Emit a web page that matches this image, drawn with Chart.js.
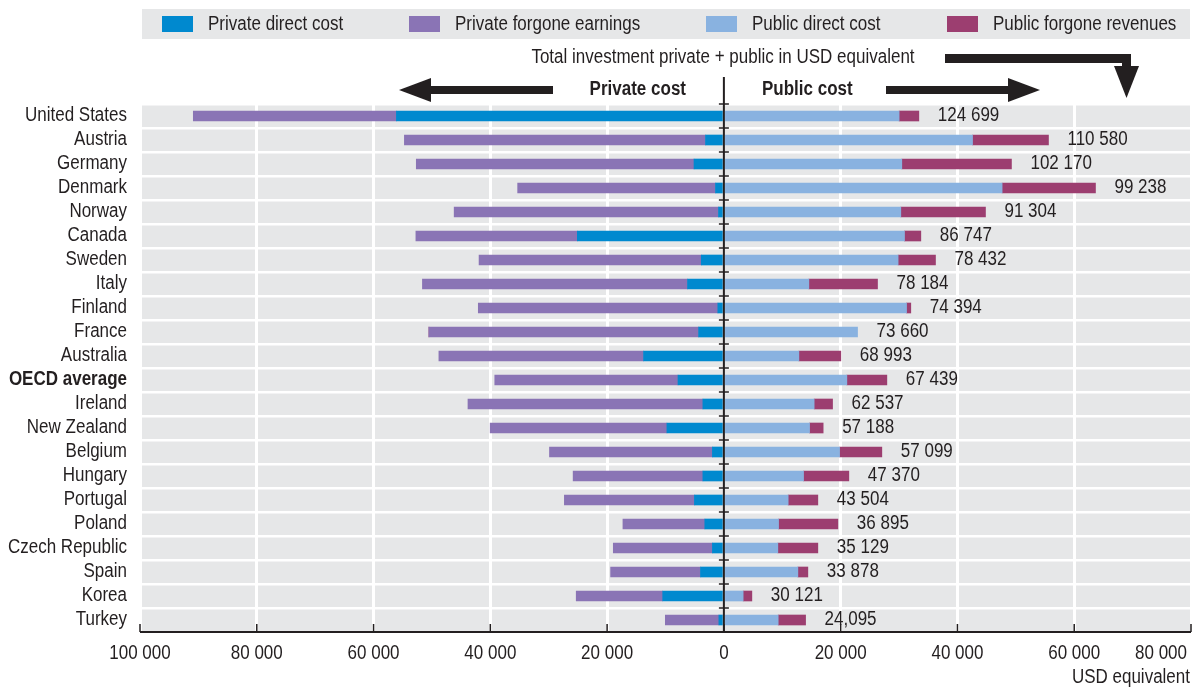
<!DOCTYPE html>
<html>
<head>
<meta charset="utf-8">
<script src="https://cdn.jsdelivr.net/npm/chart.js@4.4.1/dist/chart.umd.min.js"></script>
<style>
  html, body { margin: 0; padding: 0; background: #fff; }
  #wrap { position: relative; width: 1193px; height: 688px; }
</style>
</head>
<body>
<div id="wrap"><canvas id="costChart"></canvas></div>
<script>
const countries = ['United States', 'Austria', 'Germany', 'Denmark', 'Norway', 'Canada', 'Sweden', 'Italy',
  'Finland', 'France', 'Australia', 'OECD average', 'Ireland', 'New Zealand', 'Belgium', 'Hungary',
  'Portugal', 'Poland', 'Czech Republic', 'Spain', 'Korea', 'Turkey'];

// private costs are kept positive here and drawn to the left
const privateDirect = [56090, 3150, 5120, 1440, 925, 25100, 3870, 6230, 1040, 4330, 13760, 7860,
  3600, 9760, 1970, 3600, 5050, 3270, 1970, 4010, 10480, 860];
const privateForgone = [34780, 51570, 47560, 33880, 45270, 27650, 38060, 45400, 41020, 46190, 35050, 31380,
  40230, 30270, 27900, 22220, 22270, 14020, 16970, 15390, 14810, 9170];
const publicDirect = [30010, 42580, 30470, 47650, 30300, 30930, 29840, 14550, 31280, 22890, 12840, 21060,
  15460, 14670, 19810, 13640, 11010, 9360, 9240, 12670, 3300, 9300];
const publicForgone = [3380, 13010, 18780, 15990, 14500, 2800, 6400, 11760, 730, 0, 7190, 6850,
  3150, 2330, 7240, 7760, 5080, 10160, 6850, 1710, 1490, 4690];
const totalLabels = ['124 699', '110 580', '102 170', '99 238', '91 304', '86 747', '78 432', '78 184',
  '74 394', '73 660', '68 993', '67 439', '62 537', '57 188', '57 099', '47 370', '43 504', '36 895',
  '35 129', '33 878', '30 121', '24,095'];
const xTicks = [-100000, -80000, -60000, -40000, -20000, 0, 20000, 40000, 60000, 80000];

const FONT = '"Liberation Sans", Arial, sans-serif';
const INK = '#231f20';
const GREY = '#e6e7e8';
const SQUEEZE = 0.85; // the original uses a condensed face

function fmt(v) {
  return String(Math.abs(v)).replace(/\B(?=(\d{3})+(?!\d))/g, ' ');
}

// condensed text: measure, then draw with a horizontal squeeze
function narrowText(ctx, str, x, y, align, bold) {
  ctx.font = (bold ? 'bold ' : '') + '20px ' + FONT;
  const w = ctx.measureText(str).width * SQUEEZE;
  let left = x;
  if (align === 'right') left = x - w;
  else if (align === 'center') left = x - w / 2;
  ctx.save();
  ctx.translate(left, y);
  ctx.scale(SQUEEZE, 1);
  ctx.textAlign = 'left';
  ctx.textBaseline = 'middle';
  ctx.fillText(str, 0, 0);
  ctx.restore();
  return w;
}

function arrowLeft(ctx, x0, x1, y) {
  ctx.fillRect(x1 + 31, y - 4, x0 - x1 - 31, 8);
  ctx.beginPath();
  ctx.moveTo(x1, y); ctx.lineTo(x1 + 32, y - 12); ctx.lineTo(x1 + 32, y + 12);
  ctx.closePath(); ctx.fill();
}

function arrowRight(ctx, x0, x1, y) {
  ctx.fillRect(x0, y - 4, x1 - x0 - 31, 8);
  ctx.beginPath();
  ctx.moveTo(x1, y); ctx.lineTo(x1 - 32, y - 12); ctx.lineTo(x1 - 32, y + 12);
  ctx.closePath(); ctx.fill();
}

const decor = {
  id: 'decor',
  beforeDraw(chart) {
    const { ctx, chartArea: a } = chart;
    ctx.save();
    ctx.fillStyle = GREY;
    ctx.fillRect(a.left, a.top, a.right - a.left, a.bottom - a.top);

    // legend strip
    ctx.fillRect(142, 9, 1048, 30);
    const legX = [162, 409, 706, 947];
    chart.data.datasets.forEach((ds, i) => {
      ctx.fillStyle = ds.backgroundColor;
      ctx.fillRect(legX[i], 16, 31, 16);
      ctx.fillStyle = INK;
      narrowText(ctx, ds.label, legX[i] + 46, 24, 'left');
    });
    ctx.restore();
  },
  afterDatasetsDraw(chart) {
    const { ctx, chartArea: a } = chart;
    const xs = chart.scales.x, ys = chart.scales.y;
    const x0 = xs.getPixelForValue(0);
    ctx.save();
    ctx.strokeStyle = INK;
    ctx.fillStyle = INK;

    // zero line with small ticks between rows
    ctx.lineWidth = 2;
    ctx.beginPath();
    ctx.moveTo(x0, 77); ctx.lineTo(x0, a.bottom);
    ctx.stroke();
    ctx.lineWidth = 1.5;
    const step = (a.bottom - a.top) / countries.length;
    for (let i = 0; i <= countries.length; i++) {
      const y = a.top + i * step;
      ctx.beginPath(); ctx.moveTo(x0 - 5, y); ctx.lineTo(x0 + 5, y); ctx.stroke();
    }

    // bottom axis
    ctx.lineWidth = 2;
    ctx.beginPath();
    ctx.moveTo(a.left, a.bottom); ctx.lineTo(a.right, a.bottom);
    ctx.stroke();
    xTicks.forEach(v => {
      const x = xs.getPixelForValue(v);
      ctx.lineWidth = 1.5;
      ctx.beginPath(); ctx.moveTo(x, a.bottom); ctx.lineTo(x, a.bottom - 8); ctx.stroke();
      const t = fmt(v);
      ctx.font = '20px ' + FONT;
      const w = ctx.measureText(t).width * SQUEEZE;
      let cx = x;
      if (cx + w / 2 > chart.width - 6) cx = chart.width - 6 - w / 2;
      narrowText(ctx, t, cx, 653, 'center');
    });
    narrowText(ctx, 'USD equivalent', a.right - 1, 677, 'right');

    // category labels
    countries.forEach((c, i) => {
      narrowText(ctx, c, 127, ys.getPixelForValue(i) - 1, 'right', c === 'OECD average');
    });

    // totals at the end of each bar
    totalLabels.forEach((t, i) => {
      const end = xs.getPixelForValue(publicDirect[i] + publicForgone[i]);
      narrowText(ctx, t, end + 19, ys.getPixelForValue(i) - 0.5, 'left');
    });

    // heading and arrows
    narrowText(ctx, 'Total investment private + public in USD equivalent', 723, 57, 'center');
    narrowText(ctx, 'Private cost', 686, 89, 'right', true);
    narrowText(ctx, 'Public cost', 762, 89, 'left', true);

    arrowLeft(ctx, 553, 399, 90);
    arrowRight(ctx, 886, 1040, 90);
    ctx.fillRect(945, 54, 186, 9);
    ctx.fillRect(1122, 54, 9, 13);
    ctx.beginPath();
    ctx.moveTo(1114, 66); ctx.lineTo(1139, 66); ctx.lineTo(1126.5, 98);
    ctx.closePath(); ctx.fill();
    ctx.restore();
  }
};

Chart.defaults.font.family = FONT;

new Chart(document.getElementById('costChart').getContext('2d'), {
  type: 'bar',
  data: {
    labels: countries,
    datasets: [
      { label: 'Private direct cost', data: privateDirect.map(v => -v), backgroundColor: '#0089cf' },
      { label: 'Private forgone earnings', data: privateForgone.map(v => -v), backgroundColor: '#8a74b5' },
      { label: 'Public direct cost', data: publicDirect, backgroundColor: '#89b2e0' },
      { label: 'Public forgone revenues', data: publicForgone, backgroundColor: '#9c3e70' }
    ]
  },
  options: {
    indexAxis: 'y',
    responsive: true,
    maintainAspectRatio: false,
    devicePixelRatio: 1,
    animation: false,
    layout: { padding: { left: 140, right: 2, top: 104, bottom: 56 } },
    datasets: { bar: { barThickness: 10, borderWidth: 0 } },
    scales: {
      x: {
        stacked: true,
        min: -100000,
        max: 80000,
        ticks: { display: false, stepSize: 20000 },
        grid: {
          color: ctx => (ctx.tick && ctx.tick.value === 0) ? 'rgba(0,0,0,0)' : '#ffffff',
          lineWidth: 3,
          drawTicks: false
        },
        border: { display: false }
      },
      y: {
        stacked: true,
        ticks: { display: false },
        grid: { offset: true, color: '#ffffff', lineWidth: 2.5, drawTicks: false },
        border: { display: false }
      }
    },
    plugins: {
      legend: { display: false },
      tooltip: { enabled: false }
    }
  },
  plugins: [decor]
});
</script>
</body>
</html>
